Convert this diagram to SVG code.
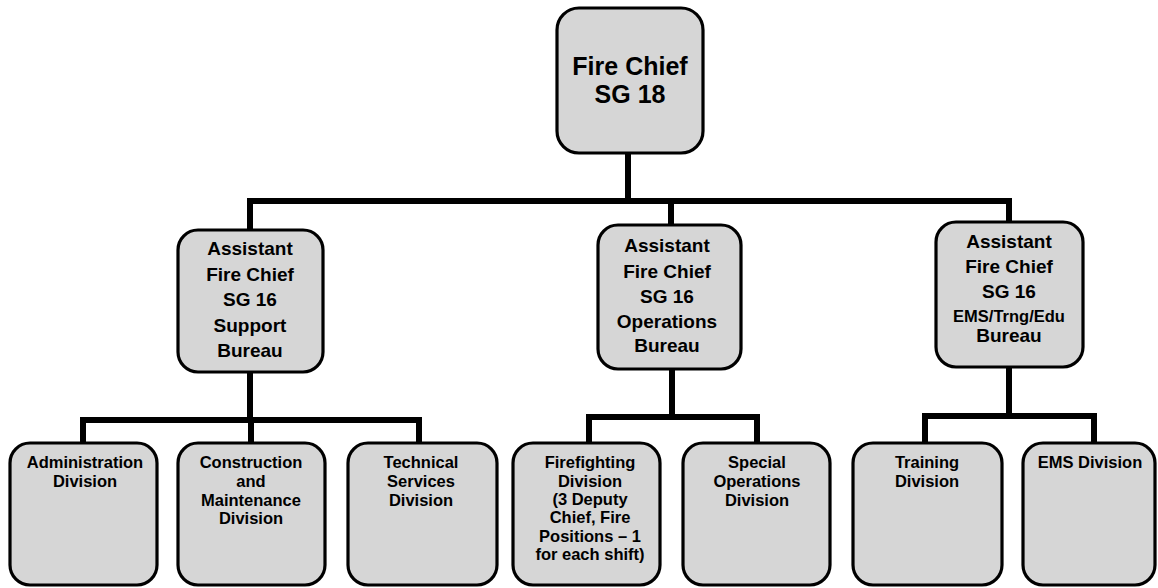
<svg xmlns="http://www.w3.org/2000/svg" width="1158" height="588" viewBox="0 0 1158 588">
<style>
.box{fill:#d6d6d6;stroke:#000;stroke-width:3.2}
.con{fill:none;stroke:#000;stroke-width:6;stroke-linecap:square}
text{font-family:"Liberation Sans",Arial,sans-serif;font-weight:bold;fill:#000;text-anchor:middle}
.t1{font-size:25px}
.t2{font-size:19px}
.t2s{font-size:16.5px}
.t3{font-size:16.5px}
</style>
<rect width="1158" height="588" fill="#fff"/>
<g id="connectors">
<path class="con" d="M628 153V201M250 201H1009M250 201V230M671 201V225M1009 201V222"/>
<path class="con" d="M250 372V420M83 420H419M83 420V443M419 420V443M251 420V443"/>
<path class="con" d="M672 369V417M589 417H757M589 417V443M757 417V443"/>
<path class="con" d="M1009 367V416M925 416H1094M925 416V443M1094 416V443"/>
</g>
<g id="fire-chief">
<rect class="box" x="557" y="8" width="146" height="145" rx="22"/>
<text class="t1" x="630" y="75">Fire Chief</text>
<text class="t1" x="630" y="103">SG 18</text>
</g>
<g id="support-bureau">
<rect class="box" x="178" y="230" width="145" height="142" rx="20"/>
<text class="t2" x="250" y="255">Assistant</text>
<text class="t2" x="250" y="281">Fire Chief</text>
<text class="t2" x="250" y="306">SG 16</text>
<text class="t2" x="250" y="332">Support</text>
<text class="t2" x="250" y="357">Bureau</text>
</g>
<g id="operations-bureau">
<rect class="box" x="598" y="225" width="143" height="144" rx="20"/>
<text class="t2" x="667" y="252">Assistant</text>
<text class="t2" x="667" y="278">Fire Chief</text>
<text class="t2" x="667" y="303">SG 16</text>
<text class="t2" x="667" y="328">Operations</text>
<text class="t2" x="667" y="352">Bureau</text>
</g>
<g id="ems-bureau">
<rect class="box" x="936" y="222" width="147" height="145" rx="20"/>
<text class="t2" x="1009" y="248">Assistant</text>
<text class="t2" x="1009" y="273">Fire Chief</text>
<text class="t2" x="1009" y="298">SG 16</text>
<text class="t2s" x="1009" y="322">EMS/Trng/Edu</text>
<text class="t2" x="1009" y="342">Bureau</text>
</g>
<g id="administration">
<rect class="box" x="10" y="443" width="147" height="142" rx="20"/>
<text class="t3" x="85" y="468">Administration</text>
<text class="t3" x="85" y="487">Division</text>
</g>
<g id="construction">
<rect class="box" x="178" y="443" width="147" height="142" rx="20"/>
<text class="t3" x="251" y="468">Construction</text>
<text class="t3" x="251" y="487">and</text>
<text class="t3" x="251" y="506">Maintenance</text>
<text class="t3" x="251" y="524">Division</text>
</g>
<g id="technical">
<rect class="box" x="348" y="443" width="149" height="142" rx="20"/>
<text class="t3" x="421" y="468">Technical</text>
<text class="t3" x="421" y="487">Services</text>
<text class="t3" x="421" y="506">Division</text>
</g>
<g id="firefighting">
<rect class="box" x="513" y="443" width="147" height="142" rx="20"/>
<text class="t3" x="590" y="468">Firefighting</text>
<text class="t3" x="590" y="487">Division</text>
<text class="t3" x="590" y="505">(3 Deputy</text>
<text class="t3" x="590" y="523">Chief, Fire</text>
<text class="t3" x="590" y="542">Positions – 1</text>
<text class="t3" x="590" y="560">for each shift)</text>
</g>
<g id="special-operations">
<rect class="box" x="683" y="443" width="147" height="142" rx="20"/>
<text class="t3" x="757" y="468">Special</text>
<text class="t3" x="757" y="487">Operations</text>
<text class="t3" x="757" y="506">Division</text>
</g>
<g id="training">
<rect class="box" x="853" y="443" width="149" height="142" rx="20"/>
<text class="t3" x="927" y="468">Training</text>
<text class="t3" x="927" y="487">Division</text>
</g>
<g id="ems-division">
<rect class="box" x="1023" y="443" width="132" height="142" rx="20"/>
<text class="t3" x="1090" y="468">EMS Division</text>
</g>
</svg>
